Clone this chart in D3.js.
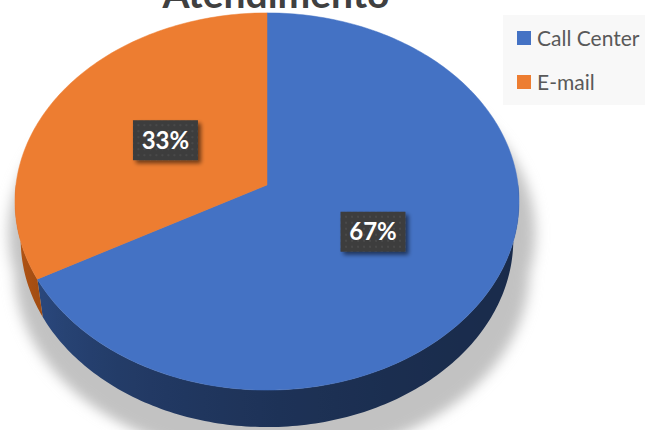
<!DOCTYPE html>
<html>
<head>
<meta charset="utf-8">
<script src="https://cdn.jsdelivr.net/npm/d3@7"></script>
<style>
  html, body { margin: 0; padding: 0; background: #ffffff; }
  svg { display: block; }
</style>
</head>
<body>
<svg id="chart" width="645" height="430"></svg>
<script>
// ---- data ----
const title = "Atendimento";
const categories = ["Call Center", "E-mail"];
const values = [67, 33];
const colors = ["#4472C4", "#ED7D31"];

// ---- layout / 3D projection ----
const W = 645, H = 430;
const cx = 267, cy = 185;          // screen position of pie centre
const alpha = 48.2 * Math.PI / 180; // tilt
const sA = Math.sin(alpha), cA = Math.cos(alpha);
const D = 7.62;                     // camera distance (in radii)
const F = 1913;                     // focal length (px)
const thick = 0.235;                // thickness (in radii)

function proj(r, th, h) {
  const x = r * Math.sin(th);
  const z = -r * Math.cos(th);
  const depth = D - h * sA - z * cA;
  const up = h * cA - z * sA;
  return [cx + F * x / depth, cy - F * up / depth];
}

const svg = d3.select("#chart");
const defs = svg.append("defs");

// blur for shadow
const fShadow = defs.append("filter").attr("id", "pieShadow")
  .attr("x", "-20%").attr("y", "-20%").attr("width", "140%").attr("height", "140%");
fShadow.append("feGaussianBlur").attr("stdDeviation", 6);

// label box shadow
const fLab = defs.append("filter").attr("id", "labShadow")
  .attr("x", "-30%").attr("y", "-30%").attr("width", "160%").attr("height", "160%");
fLab.append("feGaussianBlur").attr("in", "SourceAlpha").attr("stdDeviation", 2).attr("result", "b");
fLab.append("feOffset").attr("in", "b").attr("dx", 3).attr("dy", 3).attr("result", "o");
fLab.append("feComponentTransfer").attr("in", "o").attr("result", "o2")
  .append("feFuncA").attr("type", "linear").attr("slope", 0.55);
const fm = fLab.append("feMerge");
fm.append("feMergeNode").attr("in", "o2");
fm.append("feMergeNode").attr("in", "SourceGraphic");

// dotted texture for label boxes
const pat = defs.append("pattern").attr("id", "dots")
  .attr("width", 6).attr("height", 6).attr("patternUnits", "userSpaceOnUse");
pat.append("rect").attr("width", 6).attr("height", 6).attr("fill", "#3d3d3d");
pat.append("circle").attr("cx", 3).attr("cy", 3).attr("r", 1.1).attr("fill", "#4b4b4b");

const line = d3.line();
const deg = Math.PI / 180;

// ---- shadow ----
const topRing = d3.range(0, 361, 2).map(a => proj(1, a * deg, 0));
const botRing = d3.range(0, 361, 2).map(a => proj(1, a * deg, -thick));
const shadowG = svg.append("g")
  .attr("filter", "url(#pieShadow)")
  .attr("transform", `translate(${cx + 5},${cy + 32}) scale(1.045,1.0) translate(${-cx},${-cy})`);
shadowG.append("path").attr("d", line(topRing) + "Z").attr("fill", "#c2c2c2");
shadowG.append("path").attr("d", line(botRing) + "Z").attr("fill", "#c2c2c2");

// ---- pie ----
const pie = d3.pie().sort(null).startAngle(0).endAngle(2 * Math.PI);
const arcs = pie(values);
const total = d3.sum(values);

// side walls (front half only), one shape per slice with a horizontal gradient
const sideG = svg.append("g");
arcs.forEach((a, i) => {
  const lo = Math.max(a.startAngle, Math.PI / 2);
  const hi = Math.min(a.endAngle, 3 * Math.PI / 2);
  if (hi <= lo) return;
  const base = d3.hsl(colors[i]);
  const n = Math.ceil((hi - lo) / deg);
  const angs = d3.range(n + 1).map(k => lo + (hi - lo) * k / n);
  const topPts = angs.map(t => proj(1, t, 0));
  const botPts = angs.map(t => proj(1, t, -thick)).reverse();
  const xs = topPts.map(p => p[0]);
  const x0 = d3.min(xs), x1 = d3.max(xs);
  const gid = "side" + i;
  const grad = defs.append("linearGradient").attr("id", gid)
    .attr("gradientUnits", "userSpaceOnUse")
    .attr("x1", x0).attr("y1", 0).attr("x2", x1).attr("y2", 0);
  const stops = angs.filter((_, k) => k % 4 === 0 || k === n).map(t => {
    const u = (t - Math.PI / 2) / Math.PI; // 0 at right, 1 at left
    const c = d3.hsl(base.h, base.s * 0.95, base.l * (0.38 + 0.4 * Math.pow(u, 2.6)));
    const px = proj(1, t, 0)[0];
    return { off: x1 > x0 ? (px - x0) / (x1 - x0) : 0, col: c.formatHex() };
  }).sort((p, q) => p.off - q.off);
  stops.forEach(s => grad.append("stop").attr("offset", s.off).attr("stop-color", s.col));
  sideG.append("path").attr("d", line(topPts.concat(botPts)) + "Z")
    .attr("fill", `url(#${gid})`);
});

// top faces
const topG = svg.append("g");
arcs.forEach((a, i) => {
  const n = Math.max(2, Math.ceil((a.endAngle - a.startAngle) / deg));
  const pts = [proj(0, 0, 0)];
  for (let k = 0; k <= n; k++) {
    const t = a.startAngle + (a.endAngle - a.startAngle) * k / n;
    pts.push(proj(1, t, 0));
  }
  topG.append("path").attr("d", line(pts) + "Z")
    .attr("fill", colors[i]).attr("stroke", colors[i]).attr("stroke-width", 0.5);
});

// ---- data labels ----
const fmt = d3.format(".0%");
const labG = svg.append("g");
arcs.forEach((a, i) => {
  const mid = (a.startAngle + a.endAngle) / 2;
  const [lx, ly] = proj(0.48, mid, 0);
  const g = labG.append("g").attr("transform", `translate(${lx},${ly})`);
  g.append("rect").attr("x", -32.5).attr("y", -20).attr("width", 65).attr("height", 40)
    .attr("fill", "url(#dots)").attr("filter", "url(#labShadow)");
  g.append("text").attr("text-anchor", "middle").attr("y", 8.5)
    .attr("font-family", "Lato, 'Open Sans', sans-serif").attr("font-weight", 700)
    .attr("font-size", 24).attr("fill", "#ffffff")
    .text(fmt(a.value / total));
});

// ---- title ----
svg.append("text").attr("x", 276).attr("y", 8).attr("text-anchor", "middle")
  .attr("font-family", "Lato, 'Open Sans', sans-serif").attr("font-weight", 700)
  .attr("font-size", 39).attr("fill", "#404040").text(title);

// ---- legend ----
const leg = svg.append("g");
leg.append("rect").attr("x", 503).attr("y", 15).attr("width", 142).attr("height", 90)
  .attr("fill", "#f8f8f8");
const legY = d3.scalePoint().domain(categories).range([38, 82]);
categories.forEach((c, i) => {
  const y = legY(c);
  leg.append("rect").attr("x", 517).attr("y", y - 7).attr("width", 14).attr("height", 14)
    .attr("fill", colors[i]);
  leg.append("text").attr("x", 537).attr("y", y + 7.5)
    .attr("font-family", "Lato, 'Open Sans', sans-serif").attr("font-size", 21)
    .attr("fill", "#595959").text(c);
});
</script>
</body>
</html>
